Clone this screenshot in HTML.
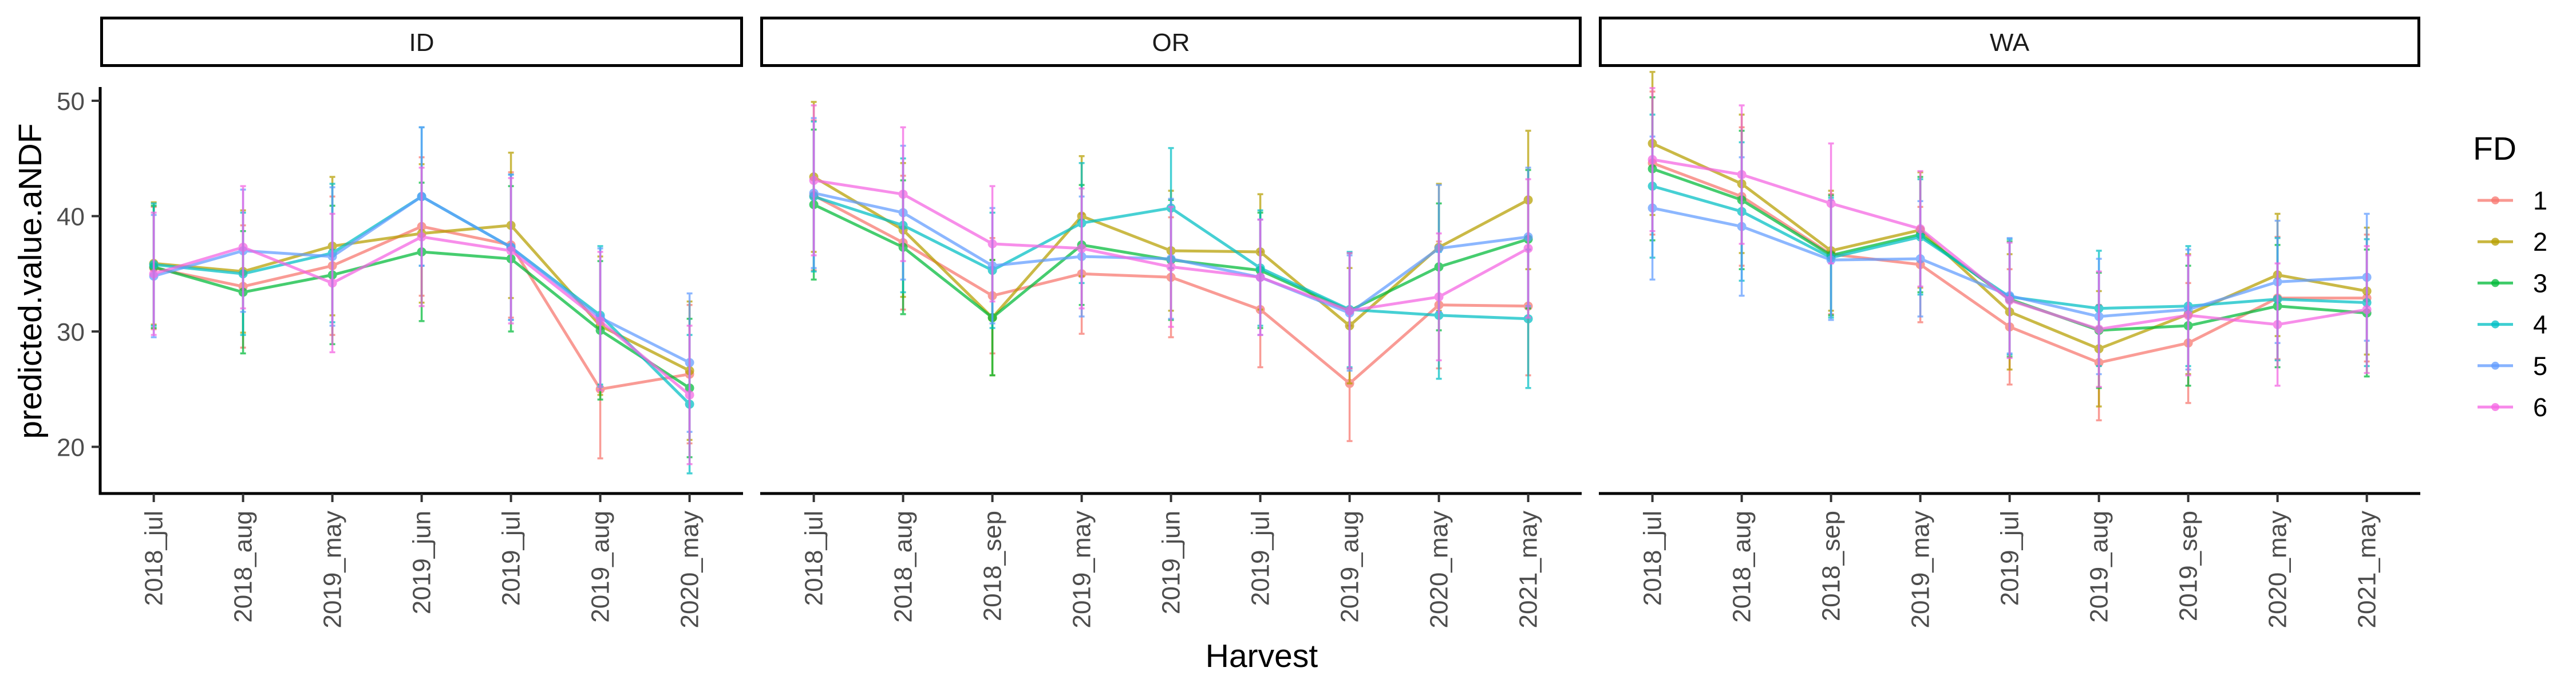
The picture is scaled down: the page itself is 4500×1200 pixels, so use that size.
<!DOCTYPE html>
<html><head><meta charset="utf-8"><style>
html,body{margin:0;padding:0;background:#fff;}
svg{display:block;font-family:"Liberation Sans",Arial,sans-serif;}
</style></head><body>
<svg id="chart" width="4500" height="1200" viewBox="0 0 4500 1200" xmlns="http://www.w3.org/2000/svg"></svg>
<script>
const seriesNames = ["1","2","3","4","5","6"];
const colors = ["#F8766D","#B79F00","#00BA38","#00BFC4","#619CFF","#F564E3"];
const yTicks = [20,30,40,50];
const catsID = ["2018_jul","2018_aug","2019_may","2019_jun","2019_jul","2019_aug","2020_may"];
const catsOR = ["2018_jul","2018_aug","2018_sep","2019_may","2019_jun","2019_jul","2019_aug","2020_may","2021_may"];
const catsWA = ["2018_jul","2018_aug","2018_sep","2019_may","2019_jul","2019_aug","2019_sep","2020_may","2021_may"];
const valsID = [
 [35.5,33.9,35.7,39.1,37.5,25.0,26.3],
 [35.9,35.2,37.4,38.5,39.2,30.5,26.6],
 [35.6,33.4,34.9,36.9,36.3,30.1,25.1],
 [35.8,35.0,36.8,41.7,37.3,31.4,23.7],
 [34.8,37.0,36.5,41.7,37.3,31.2,27.3],
 [35.0,37.3,34.2,38.2,37.0,30.9,24.5]];
const valsOR = [
 [41.8,37.7,33.1,35.0,34.7,31.9,25.5,32.3,32.2],
 [43.4,38.8,31.2,40.0,37.0,36.9,30.5,37.3,41.4],
 [41.0,37.3,31.2,37.5,36.2,35.3,31.8,35.6,38.0],
 [41.7,39.2,35.3,39.4,40.7,35.5,31.9,31.4,31.1],
 [42.0,40.3,35.7,36.5,36.3,34.7,31.6,37.2,38.2],
 [43.1,41.9,37.6,37.2,35.6,34.7,31.8,33.0,37.2]];
const valsWA = [
 [44.6,41.7,36.7,35.8,30.4,27.3,29.0,32.9,32.9],
 [46.3,42.8,37.0,38.8,31.7,28.5,31.5,34.9,33.5],
 [44.1,41.4,36.6,38.4,32.8,30.1,30.5,32.2,31.6],
 [42.6,40.4,36.4,38.2,33.0,32.0,32.2,32.8,32.5],
 [40.7,39.1,36.2,36.3,33.1,31.3,31.9,34.3,34.7],
 [44.9,43.6,41.1,38.9,32.7,30.2,31.4,30.6,31.9]];
const errID = [5.3,5.3,6.0,6.0,6.3,6.0,6.0];
const errOR = [6.5,5.8,5.0,5.2,5.2,5.0,5.0,5.5,6.0];
const errWA = [6.2,6.0,5.2,5.0,5.0,5.0,5.2,5.3,5.5];

const NS="http://www.w3.org/2000/svg";
const svg=document.getElementById('chart');
function mk(tag,attrs,parent){const e=document.createElementNS(NS,tag);for(const k in attrs)e.setAttribute(k,attrs[k]);(parent||svg).appendChild(e);return e;}
const yTop=117, yBot=862;
function yScale(v){return 176+(50-v)*20.15;}
const U=156;
const panels=[
 {name:"ID",left:175,right:1298,cats:catsID,vals:valsID,err:errID},
 {name:"OR",left:1328,right:2763,cats:catsOR,vals:valsOR,err:errOR},
 {name:"WA",left:2793,right:4228,cats:catsWA,vals:valsWA,err:errWA}];

panels.forEach((p,pi)=>{
  const g=mk('g',{});
  
  
  const xScale=i=>p.left+(0.6+i)*U;
  const strip=mk('rect',{x:p.left+2.5,y:31.5,width:p.right-p.left-5,height:83,fill:'#fff',stroke:'#000','stroke-width':5},g);
  
  
  const st=mk('text',{x:(p.left+p.right)/2,y:89,'font-size':44,'text-anchor':'middle',fill:'#1a1a1a'},g);
  st.textContent=p.name;
  
  
  const ax=mk('line',{x1:p.left,x2:p.right,y1:yBot,y2:yBot,stroke:'#000','stroke-width':5},g);
  
  
  p.cats.forEach((c,i)=>{
    const x=xScale(i);
    mk('line',{x1:x,x2:x,y1:yBot,y2:yBot+15,stroke:'#333','stroke-width':4},g);
    const t=mk('text',{x:0,y:0,'font-size':44,'text-anchor':'end',fill:'#4d4d4d',transform:`translate(${x+15},${yBot+30}) rotate(-90)`},g);
    t.textContent=c;
    
    
  });
  if(pi===0){
    const ay=mk('line',{x1:p.left,x2:p.left,y1:yTop+35,y2:yBot+2.5,stroke:'#000','stroke-width':5},g);
    
    
    yTicks.forEach(v=>{
      const y=yScale(v);
      mk('line',{x1:p.left-15,x2:p.left,y1:y,y2:y,stroke:'#333','stroke-width':4},g);
      const t=mk('text',{x:p.left-27,y:y+16,'font-size':44,'text-anchor':'end',fill:'#4d4d4d'},g);
      t.textContent=v;
      
      
    });
  }
  p.vals.forEach((arr,s)=>{
    const sg=mk('g',{opacity:0.72},g);
    
    
    arr.forEach((v,i)=>{
      const x=xScale(i),y1=yScale(v+p.err[i]),y2=yScale(v-p.err[i]);
      mk('line',{x1:x,x2:x,y1:y1,y2:y2,stroke:colors[s],'stroke-width':3.5},sg);
      mk('line',{x1:x-5,x2:x+5,y1:y1,y2:y1,stroke:colors[s],'stroke-width':3.5},sg);
      mk('line',{x1:x-5,x2:x+5,y1:y2,y2:y2,stroke:colors[s],'stroke-width':3.5},sg);
    });
    const pts=arr.map((v,i)=>xScale(i)+','+yScale(v)).join(' ');
    const pl=mk('polyline',{points:pts,fill:'none',stroke:colors[s],'stroke-width':5},sg);
    
    
    arr.forEach((v,i)=>{
      const c=mk('circle',{cx:xScale(i),cy:yScale(v),r:8,fill:colors[s]},sg);
      
      
    });
  });
});
const yt=mk('text',{x:0,y:0,'font-size':57,'text-anchor':'middle',fill:'#000',transform:'translate(72,491) rotate(-90)'});
yt.textContent='predicted.value.aNDF';


const xt=mk('text',{x:2204,y:1165,'font-size':57,'text-anchor':'middle',fill:'#000'});
xt.textContent='Harvest';


const lg=mk('g',{});


const lt=mk('text',{x:4320,y:279,'font-size':57,fill:'#000'},lg);
lt.textContent='FD';


seriesNames.forEach((n,i)=>{
  const y=350+i*72.2;
  const e=mk('g',{},lg);
  
  
  mk('line',{x1:4328,x2:4390,y1:y,y2:y,stroke:colors[i],'stroke-width':5,opacity:0.75},e);
  mk('circle',{cx:4359,cy:y,r:7,fill:colors[i],opacity:0.75},e);
  const t=mk('text',{x:4425,y:y+16,'font-size':45,fill:'#000'},e);
  t.textContent=n;
});
</script>
</body></html>
